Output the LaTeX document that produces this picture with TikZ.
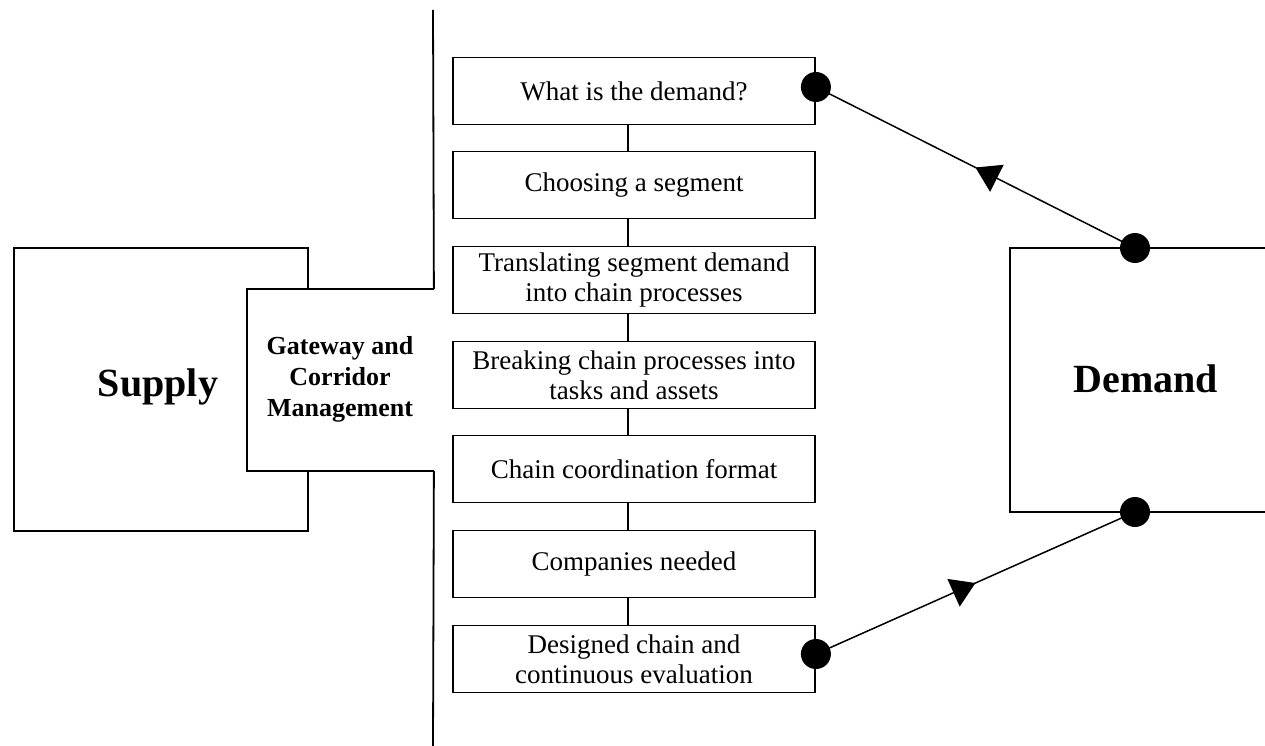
\documentclass[tikz,border=0pt]{standalone}
\usepackage{fontspec}
\setmainfont{Liberation Serif}
\usetikzlibrary{decorations.markings,arrows.meta}
\begin{document}
\begin{tikzpicture}[x=1pt,y=-1pt,line width=1.8pt,
  proc/.style={draw, fill=white, minimum width=362pt, minimum height=67pt, align=center,
    font=\fontsize{27}{30}\selectfont, inner sep=0pt},
  big/.style={font=\fontsize{40}{44}\selectfont\bfseries},
  dot/.style={circle, fill=black, minimum size=30pt, inner sep=0pt},
  flow/.style={line width=1.5pt, postaction={decorate}, decoration={markings,
    mark=at position 0.5 with {\arrow{Triangle[length=24pt,width=30pt]}}}}]
\useasboundingbox (0,0) rectangle (1265,746);
% supply
\node (supply) [draw, minimum width=294pt, minimum height=283pt, inner sep=0pt] at (161,389.5) {};
\node (supplytxt) [big] at (158,387) {Supply};
% gateway
\node (gate) [fill=white, minimum width=185pt, minimum height=180pt, inner sep=0pt] at (340.5,380) {};
\draw (gate.north east) -- (gate.north west) -- (gate.south west) -- (gate.south east);
\node (gatetxt) [align=center, font=\fontsize{26}{31}\selectfont\bfseries] at (340,379) {Gateway and\\Corridor\\Management};
% vertical divider
\coordinate (vtop) at (433,10);
\coordinate (vbot) at (433,746);
\draw (vtop) -- (gate.north east);
\draw (gate.south east) -- (vbot);
% process chain
\node (b1) [proc] at (634,91) {What is the demand?};
\node (b2) [proc] at (634,185) {Choosing a segment};
\node (b3) [proc] at (634,280) {Translating segment demand\\into chain processes};
\node (b4) [proc] at (634,375) {Breaking chain processes into\\tasks and assets};
\node (b5) [proc] at (634,469) {Chain coordination format};
\node (b6) [proc] at (634,564) {Companies needed};
\node (b7) [proc] at (634,659) {Designed chain and\\continuous evaluation};
\foreach \a/\b in {b1/b2,b2/b3,b3/b4,b4/b5,b5/b6,b6/b7}
  \draw ([xshift=-6pt]\a.south) -- ([xshift=-6pt]\b.north);
% demand
\coordinate (dtr) at (1265,248);
\coordinate (dtl) at (1010,248);
\coordinate (dbl) at (1010,512);
\coordinate (dbr) at (1265,512);
\draw (dtr) -- (dtl) -- (dbl) -- (dbr);
\node (demandtxt) [big] at (1146,379) {Demand};
\node (d1) [dot] at ([yshift=4pt]b1.east) {};
\node (d2) [dot] at (1135,248) {};
\node (d3) [dot] at (1135,512) {};
\node (d4) [dot] at ([yshift=5pt]b7.east) {};
\draw[flow] (d2.center) -- (d1.center);
\draw[flow] (d4.center) -- (d3.center);
\end{tikzpicture}
\end{document}
